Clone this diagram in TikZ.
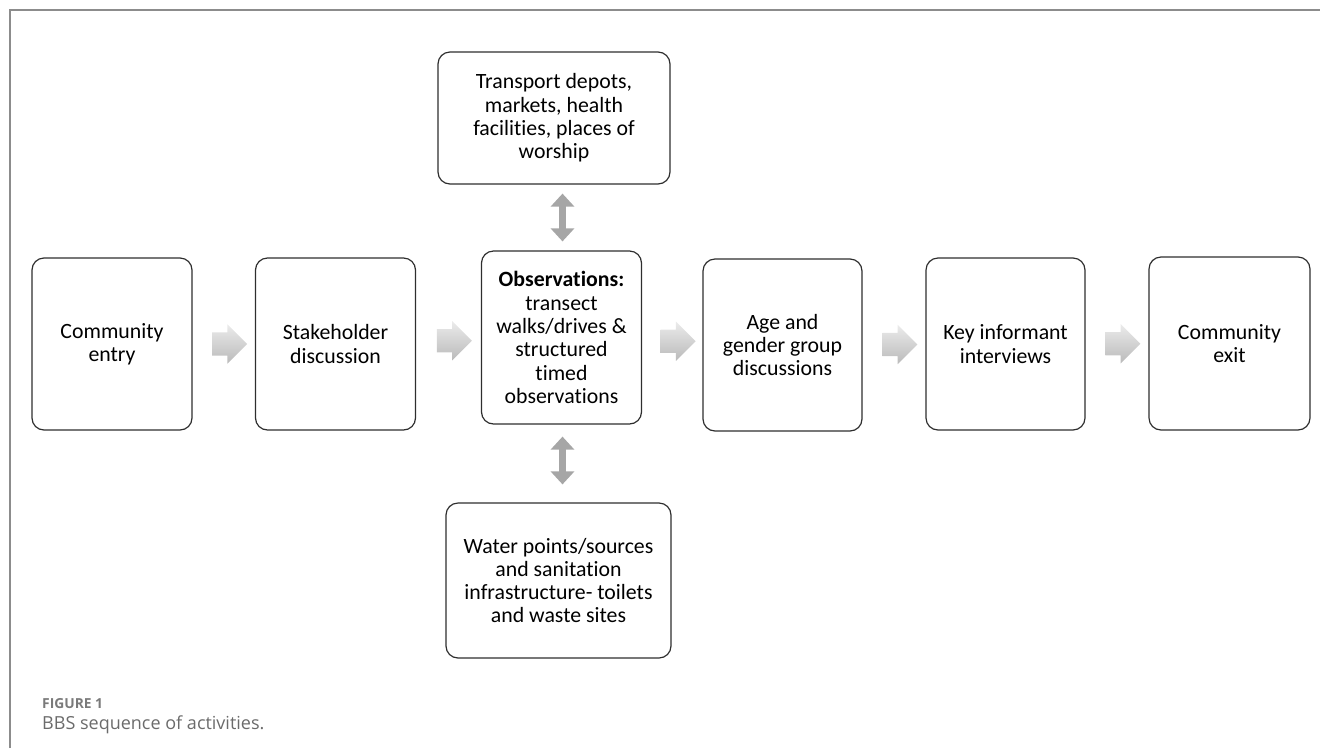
\documentclass[tikz,border=0pt]{standalone}
\usepackage{fontspec}
\setmainfont{Carlito}[Ligatures=NoCommon]
\newfontfamily\capfont{Open Sans}[Ligatures=NoCommon]
\usetikzlibrary{shapes.arrows,arrows.meta}

\definecolor{framegray}{HTML}{8C8C8C}
\definecolor{boxline}{HTML}{2E2E2E}
\definecolor{arrowtop}{HTML}{EBEBEB}
\definecolor{arrowbot}{HTML}{BABABA}
\definecolor{linkgray}{HTML}{A6A6A6}
\definecolor{capgray}{HTML}{7A7A7A}
\definecolor{titlegray}{HTML}{6B6B6B}

\tikzset{
  stepbox/.style={draw=boxline, line width=1.2pt, rounded corners=12pt, align=center,
    inner sep=3pt, font=\fontsize{21.8}{23.3}\selectfont},
  flowarrow/.style={single arrow, single arrow head extend=8pt, minimum height=34pt,
    inner sep=11.5pt, top color=arrowtop, bottom color=arrowbot, draw=none},
  linkarrow/.style={draw=linkgray, line width=7pt,
    {Triangle[length=13pt,width=23pt]}-{Triangle[length=13pt,width=23pt]}}
}

\begin{document}
\begin{tikzpicture}[x=1pt,y=-1pt]

\useasboundingbox (0,0) rectangle (1320,748);

% open frame, top and left only
\draw[framegray, line width=1.5pt] (10,748) -- (10,10) -- (1320,10);

% main row of steps
\node[stepbox, minimum width=160pt, minimum height=172pt] (entry) at (112,344) {Community\\entry};
\node[stepbox, minimum width=160pt, minimum height=172pt] (stake) at (335.5,344) {Stakeholder\\discussion};
\node[stepbox, minimum width=160pt, minimum height=173pt] (obs) at (561.5,337.5)
  {\textbf{Observations:}\\transect\\walks/drives \&\\structured\\timed\\observations};
\node[stepbox, minimum width=159pt, minimum height=172pt] (age) at (782.5,345) {Age and\\gender group\\discussions};
\node[stepbox, minimum width=159pt, minimum height=172pt] (key) at (1005.5,344) {Key informant\\interviews};
\node[stepbox, minimum width=161pt, minimum height=173pt] (exit) at (1229.5,343.5) {Community\\exit};

% observation sites
\node[stepbox, minimum width=232pt, minimum height=132pt] (sites) at (554,118)
  {Transport depots,\\markets, health\\facilities, places of\\worship};
\node[stepbox, minimum width=225pt, minimum height=155pt] (water) at (558.5,580.5)
  {Water points/sources\\and sanitation\\infrastructure- toilets\\and waste sites};

% block arrows between steps
\path (entry) -- node[flowarrow] {} (stake);
\path (stake) -- node[flowarrow] {} (obs);
\path (obs) -- node[flowarrow] {} (age);
\path (age) -- node[flowarrow] {} (key);
\path (key) -- node[flowarrow] {} (exit);

% two-way links
\draw[linkarrow, shorten <=9pt, shorten >=9pt] ([xshift=1pt]obs.north) -- ([xshift=1pt]obs.north |- sites.south);
\draw[linkarrow, shorten <=12pt, shorten >=18pt] ([xshift=1pt]obs.south) -- ([xshift=1pt]obs.south |- water.north);

% caption
\node[anchor=base west, inner sep=0, text=capgray, font=\capfont\bfseries\fontsize{13.8}{15}\selectfont]
  (figlabel) at (42,708) {FIGURE 1};
\node[anchor=base west, inner sep=0, text=titlegray, font=\capfont\fontsize{18}{21}\selectfont]
  (figtitle) at (42,729) {BBS sequence of activities.};

\end{tikzpicture}
\end{document}
